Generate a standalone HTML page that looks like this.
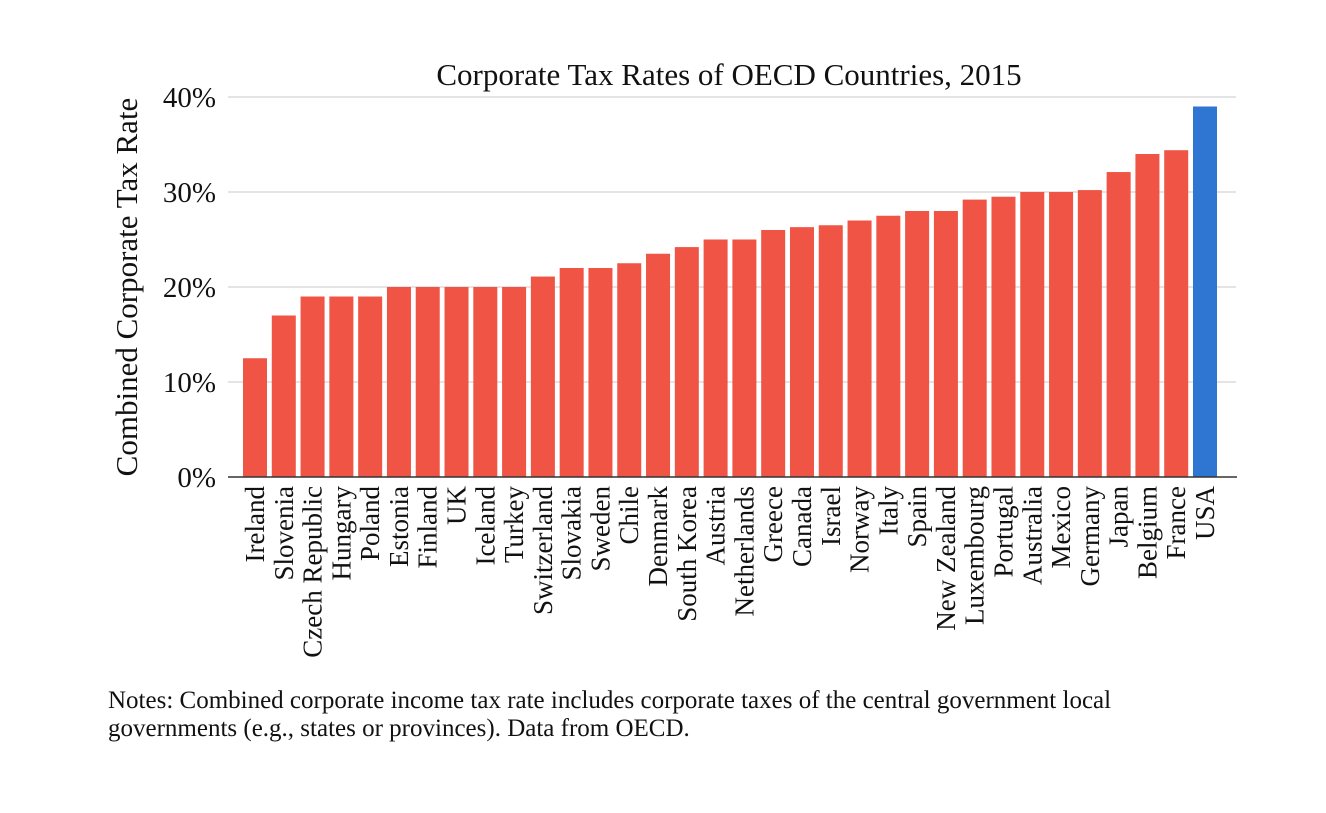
<!DOCTYPE html>
<html><head><meta charset="utf-8"><style>
body{margin:0;background:#fff;}
svg text{font-family:"Liberation Serif",serif;fill:#111;}
</style></head><body>
<svg width="1326" height="808">
<text x="729" y="85" text-anchor="middle" font-size="31">Corporate Tax Rates of OECD Countries, 2015</text>
<text transform="translate(137,287) rotate(-90)" text-anchor="middle" font-size="31">Combined Corporate Tax Rate</text>
<g id="grid"></g><g id="bars"></g><g id="xlabels"></g>
<line x1="228" y1="477" x2="1237" y2="477" stroke="#333" stroke-width="1.5"/>
<text x="108" y="708" font-size="25">Notes: Combined corporate income tax rate includes corporate taxes of the central government local</text>
<text x="108" y="736" font-size="25">governments (e.g., states or provinces). Data from OECD.</text>
</svg>
<script>
const categories=["Ireland","Slovenia","Czech Republic","Hungary","Poland","Estonia","Finland","UK","Iceland","Turkey","Switzerland","Slovakia","Sweden","Chile","Denmark","South Korea","Austria","Netherlands","Greece","Canada","Israel","Norway","Italy","Spain","New Zealand","Luxembourg","Portugal","Australia","Mexico","Germany","Japan","Belgium","France","USA"];
const values=[12.5,17,19,19,19,20,20,20,20,20,21.1,22,22,22.5,23.5,24.2,25,25,26,26.3,26.5,27,27.5,28,28,29.2,29.5,30,30,30.2,32.1,34,34.4,39];
const ticks=[0,10,20,30,40];
const tickLabels=["0%","10%","20%","30%","40%"];
const NS="http://www.w3.org/2000/svg";
const x0=228,x1=1236,y0=477,yTop=97,maxV=40;
const y=v=>y0-(v/maxV)*(y0-yTop);
const first=255,last=1205;
const step=(last-first)/(categories.length-1);
const xc=i=>first+step*i;
function mk(t,a,p){const e=document.createElementNS(NS,t);for(const k in a)e.setAttribute(k,a[k]);p.appendChild(e);return e;}
const grid=document.getElementById('grid'),bars=document.getElementById('bars'),xl=document.getElementById('xlabels');
ticks.forEach((t,i)=>{
 if(t>0){const l=mk('line',{x1:x0,x2:x1,y1:y(t),y2:y(t),stroke:'#c8c8c8','stroke-width':1},grid);
 
 }
 const tx=mk('text',{x:216,y:y(t)+10,'text-anchor':'end','font-size':29},grid);tx.textContent=tickLabels[i];
 
 
});
const bw=24;
categories.forEach((c,i)=>{
 const r=mk('rect',{x:xc(i)-bw/2,y:y(values[i]),width:bw,height:y0-y(values[i]),fill:c==="USA"?"#2f76d2":"#ef5444"},bars);
 
 
 const t=mk('text',{transform:`translate(${xc(i)+9},486) rotate(-90)`,'text-anchor':'end','font-size':27},xl);t.textContent=c;
 
 
});
</script>
</body></html>
